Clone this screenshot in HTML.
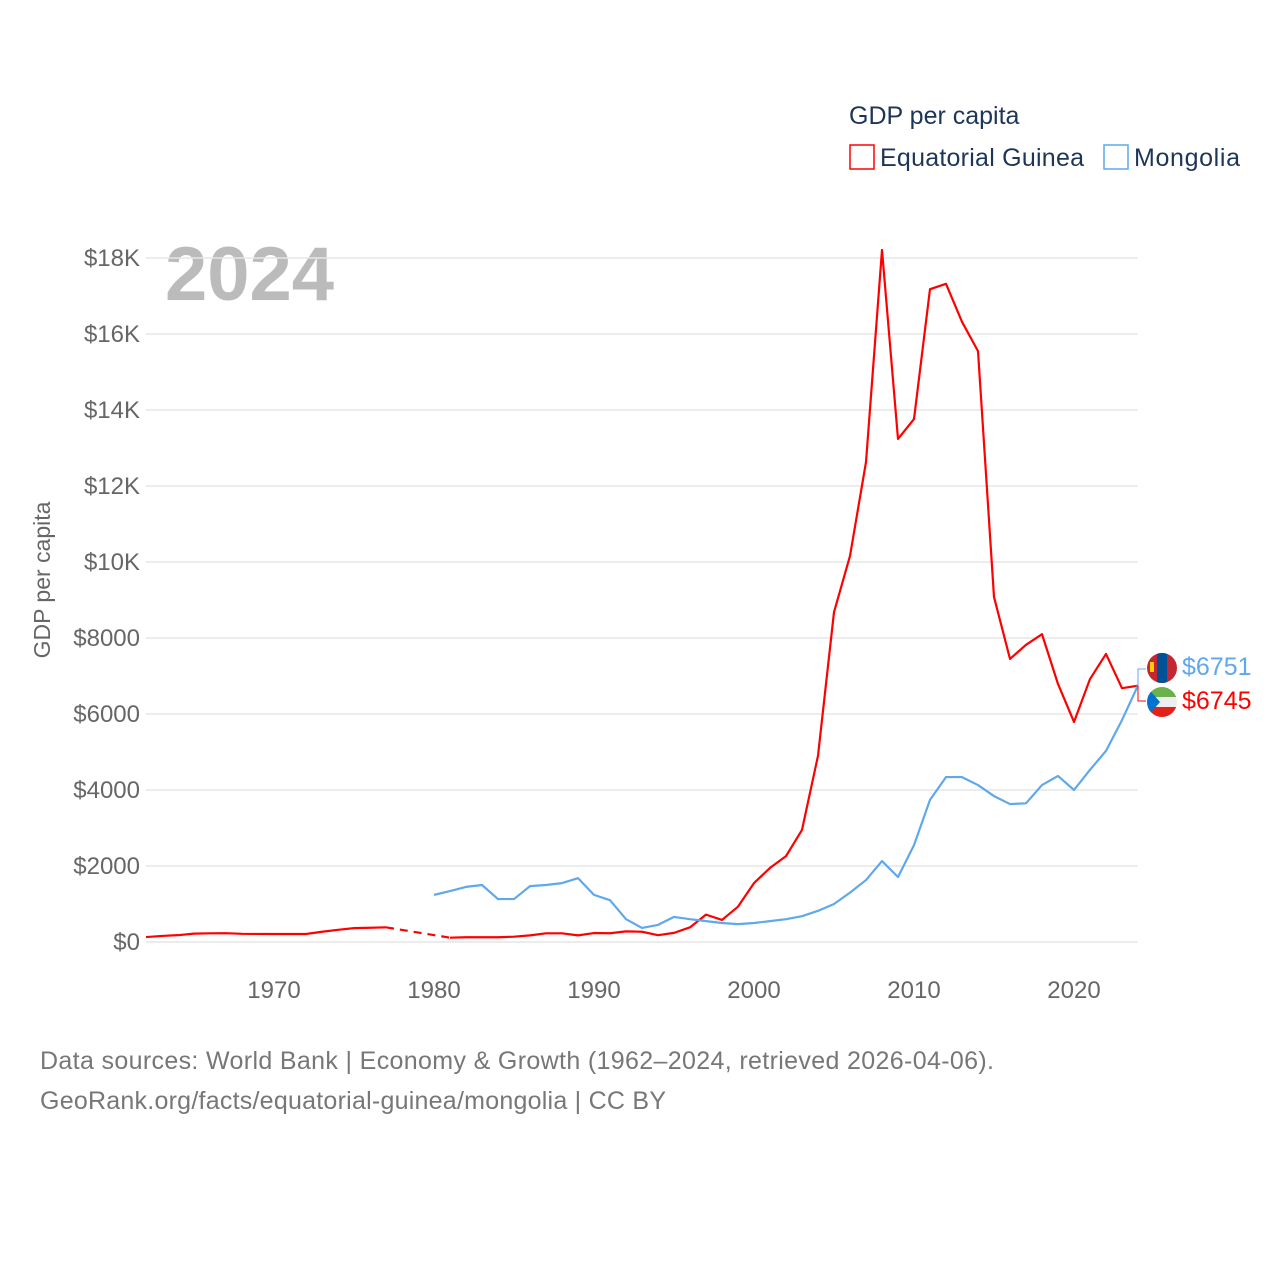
<!DOCTYPE html>
<html><head><meta charset="utf-8"><style>
body{margin:0;background:#fff;font-family:"Liberation Sans",sans-serif}
</style></head><body>
<svg id="c" width="1280" height="1280" xmlns="http://www.w3.org/2000/svg" style="font-family:'Liberation Sans',sans-serif">
<text x="849" y="124" font-size="25" fill="#1d3557">GDP per capita</text>
<g><rect x="850" y="145" width="24" height="24" fill="none" stroke="#f00" stroke-width="1.5"/><text x="880" y="166" font-size="25" fill="#1d3557" textLength="204">Equatorial Guinea</text></g>
<g><rect x="1104" y="145" width="24" height="24" fill="none" stroke="#5fa8ec" stroke-width="1.5"/><text x="1134" y="166" font-size="25" fill="#1d3557" textLength="106">Mongolia</text></g>
<text x="165" y="300" font-size="76" font-weight="bold" fill="#bbb">2024</text>
<text transform="translate(50,580) rotate(-90)" text-anchor="middle" font-size="23" fill="#666">GDP per capita</text>
<g id="grid"></g><g id="lines"></g>
<text x="40" y="1069" font-size="25" fill="#777" textLength="954">Data sources: World Bank | Economy &amp; Growth (1962–2024, retrieved 2026-04-06).</text>
<text x="40" y="1109" font-size="25" fill="#777" textLength="626">GeoRank.org/facts/equatorial-guinea/mongolia | CC BY</text>
</svg>
<script>
const yTicks=[0,2000,4000,6000,8000,10000,12000,14000,16000,18000];
const yTickLabels=["$0","$2000","$4000","$6000","$8000","$10K","$12K","$14K","$16K","$18K"];
const xTicks=[1970,1980,1990,2000,2010,2020];
const gqYears=[1962,1963,1964,1965,1966,1967,1968,1969,1970,1971,1972,1973,1974,1975,1976,1977,1981,1982,1983,1984,1985,1986,1987,1988,1989,1990,1991,1992,1993,1994,1995,1996,1997,1998,1999,2000,2001,2002,2003,2004,2005,2006,2007,2008,2009,2010,2011,2012,2013,2014,2015,2016,2017,2018,2019,2020,2021,2022,2023,2024];
const gqValues=[130,160,180,220,228,232,215,212,210,210,210,270,320,365,375,386,114,125,125,125,140,175,228,228,175,236,230,280,270,180,240,386,720,580,930,1550,1950,2260,2950,4900,8680,10160,12630,18210,13240,13760,17180,17320,16320,15550,9080,7450,7820,8100,6790,5790,6920,7580,6680,6745];
const mnYears=[1980,1981,1982,1983,1984,1985,1986,1987,1988,1989,1990,1991,1992,1993,1994,1995,1996,1997,1998,1999,2000,2001,2002,2003,2004,2005,2006,2007,2008,2009,2010,2011,2012,2013,2014,2015,2016,2017,2018,2019,2020,2021,2022,2023,2024];
const mnValues=[1240,1340,1450,1500,1130,1130,1470,1500,1550,1680,1240,1100,600,370,450,660,600,550,500,470,500,550,600,680,820,1000,1300,1630,2130,1710,2550,3740,4340,4340,4130,3840,3630,3650,4130,4370,4000,4530,5030,5840,6751];
const NS="http://www.w3.org/2000/svg";
const X=y=>146+(y-1962)*16, Y=v=>942-v*0.038;
function mk(t,a,p){const e=document.createElementNS(NS,t);for(const k in a)e.setAttribute(k,a[k]);p.appendChild(e);return e;}
const grid=document.getElementById('grid'), lines=document.getElementById('lines');
yTicks.forEach((v,i)=>{
 const l=mk('line',{x1:146,x2:1138,y1:Y(v),y2:Y(v),stroke:'#e6e6e6','stroke-width':1.5},grid);
 
 
 const t=mk('text',{x:140,y:Y(v)+8,'text-anchor':'end','font-size':24,fill:'#666'},grid);t.textContent=yTickLabels[i];
 
 
});
xTicks.forEach(y=>{
 const t=mk('text',{x:X(y),y:998,'text-anchor':'middle','font-size':24,fill:'#666'},grid);t.textContent=y;
 
 
});
function series(years,vals,col,name){
 let seg=[];const segs=[];
 years.forEach((y,i)=>{if(i>0&&y-years[i-1]>1){segs.push(seg);
   const d=mk('line',{x1:X(years[i-1]),y1:Y(vals[i-1]),x2:X(y),y2:Y(vals[i]),stroke:col,'stroke-width':2.2,'stroke-dasharray':'8 6'},lines);
   
   
   seg=[];}
  seg.push(X(y)+','+Y(vals[i]));});
 segs.push(seg);
 segs.forEach(s=>{const p=mk('polyline',{points:s.join(' '),fill:'none',stroke:col,'stroke-width':2.2,'stroke-linejoin':'round'},lines);
  
  });
}
series(gqYears,gqValues,'#f00','equatorial-guinea');
series(mnYears,mnValues,'#5fa8ec','mongolia');
const mnEnd=Y(mnValues[mnValues.length-1]), gqEnd=Y(gqValues[gqValues.length-1]);
const c1=mk('path',{d:`M1138 ${mnEnd} V669 H1146`,fill:'none',stroke:'#5fa8ec','stroke-width':1},lines);


const c2=mk('path',{d:`M1138 ${gqEnd} V701 H1146`,fill:'none',stroke:'#f00','stroke-width':1},lines);


const defs=mk('defs',{},lines);
const cp1=mk('clipPath',{id:'f1'},defs);mk('circle',{cx:1162,cy:668,r:15},cp1);
const cp2=mk('clipPath',{id:'f2'},defs);mk('circle',{cx:1162,cy:702,r:15},cp2);
const f1=mk('g',{'clip-path':'url(#f1)'},lines);


mk('rect',{x:1147,y:653,width:30,height:30,fill:'#c4272f'},f1);
mk('rect',{x:1157,y:653,width:10,height:30,fill:'#015197'},f1);
mk('rect',{x:1150,y:662,width:4,height:10,fill:'#f9cf02'},f1);
const f2=mk('g',{'clip-path':'url(#f2)'},lines);


mk('rect',{x:1147,y:687,width:30,height:10,fill:'#6ab04c'},f2);
mk('rect',{x:1147,y:697,width:30,height:10,fill:'#eee'},f2);
mk('rect',{x:1147,y:707,width:30,height:10,fill:'#e32118'},f2);
mk('polygon',{points:'1147,687 1160,702 1147,717',fill:'#0073ce'},f2);
const t1=mk('text',{x:1182,y:675,'font-size':25,fill:'#5fa8ec'},lines);t1.textContent='$6751';


const t2=mk('text',{x:1182,y:709,'font-size':25,fill:'#f00'},lines);t2.textContent='$6745';


</script>
</body></html>
